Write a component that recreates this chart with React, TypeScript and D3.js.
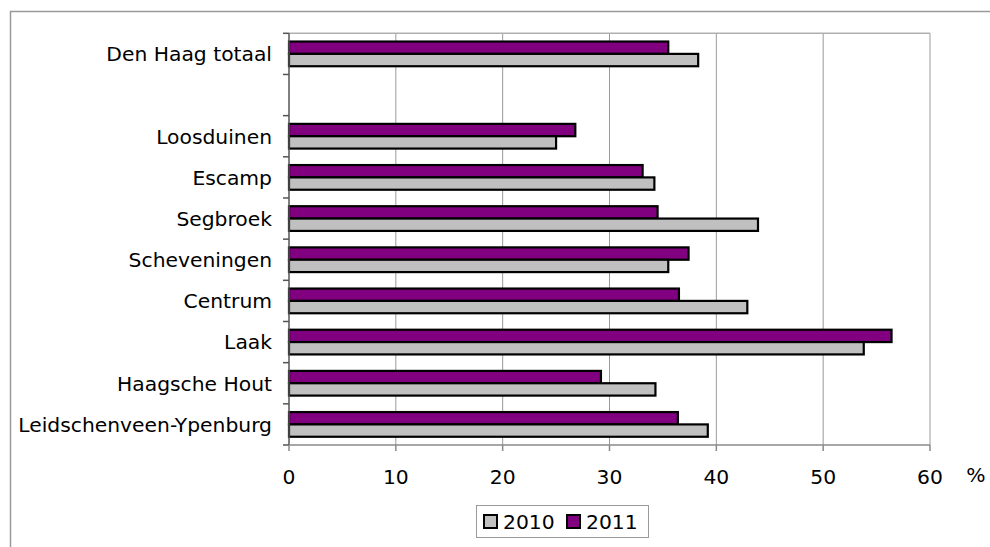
import React from "react";
import * as d3 from "d3";

// Districts from top to bottom; the empty entry is a spacer row.
const categories = [
  "Den Haag totaal",
  "",
  "Loosduinen",
  "Escamp",
  "Segbroek",
  "Scheveningen",
  "Centrum",
  "Laak",
  "Haagsche Hout",
  "Leidschenveen-Ypenburg",
];
const values2010: (number | null)[] = [38.3, null, 25.0, 34.2, 43.9, 35.5, 42.9, 53.8, 34.3, 39.2];
const values2011: (number | null)[] = [35.5, null, 26.8, 33.1, 34.5, 37.4, 36.5, 56.4, 29.2, 36.4];
const seriesNames = ["2010", "2011"];
const seriesColors = ["#c0c0c0", "#800080"];
const xTicks = [0, 10, 20, 30, 40, 50, 60];

const W = 990;
const H = 547;
const plot = { left: 289, right: 930, top: 33.3, bottom: 445 };
const FONT = "'DejaVu Sans', Verdana, sans-serif";
const FS = 20.3;

export default function App() {
  const x = d3.scaleLinear().domain([0, 60]).range([plot.left, plot.right]);
  const y = d3
    .scaleBand<string>()
    .domain(categories.map((c, i) => String(i)))
    .range([plot.top, plot.bottom])
    .padding(0);
  const bw = y.bandwidth();
  // 2011 drawn above 2010 within each row
  const inner = d3
    .scaleBand<string>()
    .domain(["2011", "2010"])
    .range([0, bw])
    .paddingInner(0)
    .paddingOuter(0.667);

  const rows = categories.map((c, i) => ({
    key: String(i),
    label: c,
    v2010: values2010[i],
    v2011: values2011[i],
  }));

  const boundaries = categories.map((_, i) => y(String(i))!).concat([plot.bottom]);

  return (
    <svg
      width={W}
      height={H}
      style={{ position: "absolute", left: 0, top: 0, background: "#fff" }}
      fontFamily={FONT}
    >
      {/* outer chart frame */}
      <rect x={10.5} y={11.5} width={1000} height={600} fill="none" stroke="#9a9a9a" strokeWidth={1.5} />

      {/* vertical gridlines */}
      {xTicks.slice(1).map((t) => (
        <line key={t} x1={x(t)} x2={x(t)} y1={plot.top} y2={plot.bottom} stroke="#9a9a9a" strokeWidth={1} />
      ))}
      {/* plot frame top */}
      <line x1={plot.left} x2={plot.right} y1={plot.top} y2={plot.top} stroke="#b0b0b0" strokeWidth={1.5} />

      {/* bars */}
      {rows.map((r) => (
        <g key={r.key} transform={`translate(0,${y(r.key)})`}>
          {r.v2011 != null && (
            <rect
              x={x(0)}
              y={inner("2011")}
              width={x(r.v2011) - x(0)}
              height={inner.bandwidth()}
              fill={seriesColors[1]}
              stroke="#000"
              strokeWidth={2.2}
            />
          )}
          {r.v2010 != null && (
            <rect
              x={x(0)}
              y={inner("2010")}
              width={x(r.v2010) - x(0)}
              height={inner.bandwidth()}
              fill={seriesColors[0]}
              stroke="#000"
              strokeWidth={2.2}
            />
          )}
        </g>
      ))}

      {/* y axis */}
      <line x1={plot.left} x2={plot.left} y1={plot.top} y2={plot.bottom} stroke="#555" strokeWidth={1.5} />
      {boundaries.map((b, i) => (
        <line key={i} x1={plot.left - 6} x2={plot.left} y1={b} y2={b} stroke="#555" strokeWidth={1.5} />
      ))}
      {rows.map((r) => (
        <text
          key={r.key}
          x={272}
          y={y(r.key)! + bw / 2}
          dy="0.36em"
          textAnchor="end"
          fontSize={FS}
          fill="#000"
        >
          {r.label}
        </text>
      ))}

      {/* x axis */}
      <line x1={plot.left} x2={plot.right} y1={plot.bottom} y2={plot.bottom} stroke="#8a8a8a" strokeWidth={1.5} />
      {xTicks.map((t) => (
        <g key={t}>
          <line x1={x(t)} x2={x(t)} y1={plot.bottom} y2={plot.bottom + 6} stroke="#8a8a8a" strokeWidth={1.5} />
          <text x={x(t)} y={484} textAnchor="middle" fontSize={FS} fill="#000">
            {t}
          </text>
        </g>
      ))}
      <text x={976} y={482} textAnchor="middle" fontSize={FS} fill="#000">
        %
      </text>

      {/* legend */}
      <rect x={476.5} y={505.5} width={172} height={32} fill="#fff" stroke="#9a9a9a" strokeWidth={1} />
      {seriesNames.map((s, i) => {
        const lx = 484 + i * 83;
        return (
          <g key={s}>
            <rect x={lx} y={515} width={13} height={13} fill={seriesColors[i]} stroke="#000" strokeWidth={2} />
            <text x={lx + 19} y={528.5} fontSize={FS} fill="#000">
              {s}
            </text>
          </g>
        );
      })}
    </svg>
  );
}
